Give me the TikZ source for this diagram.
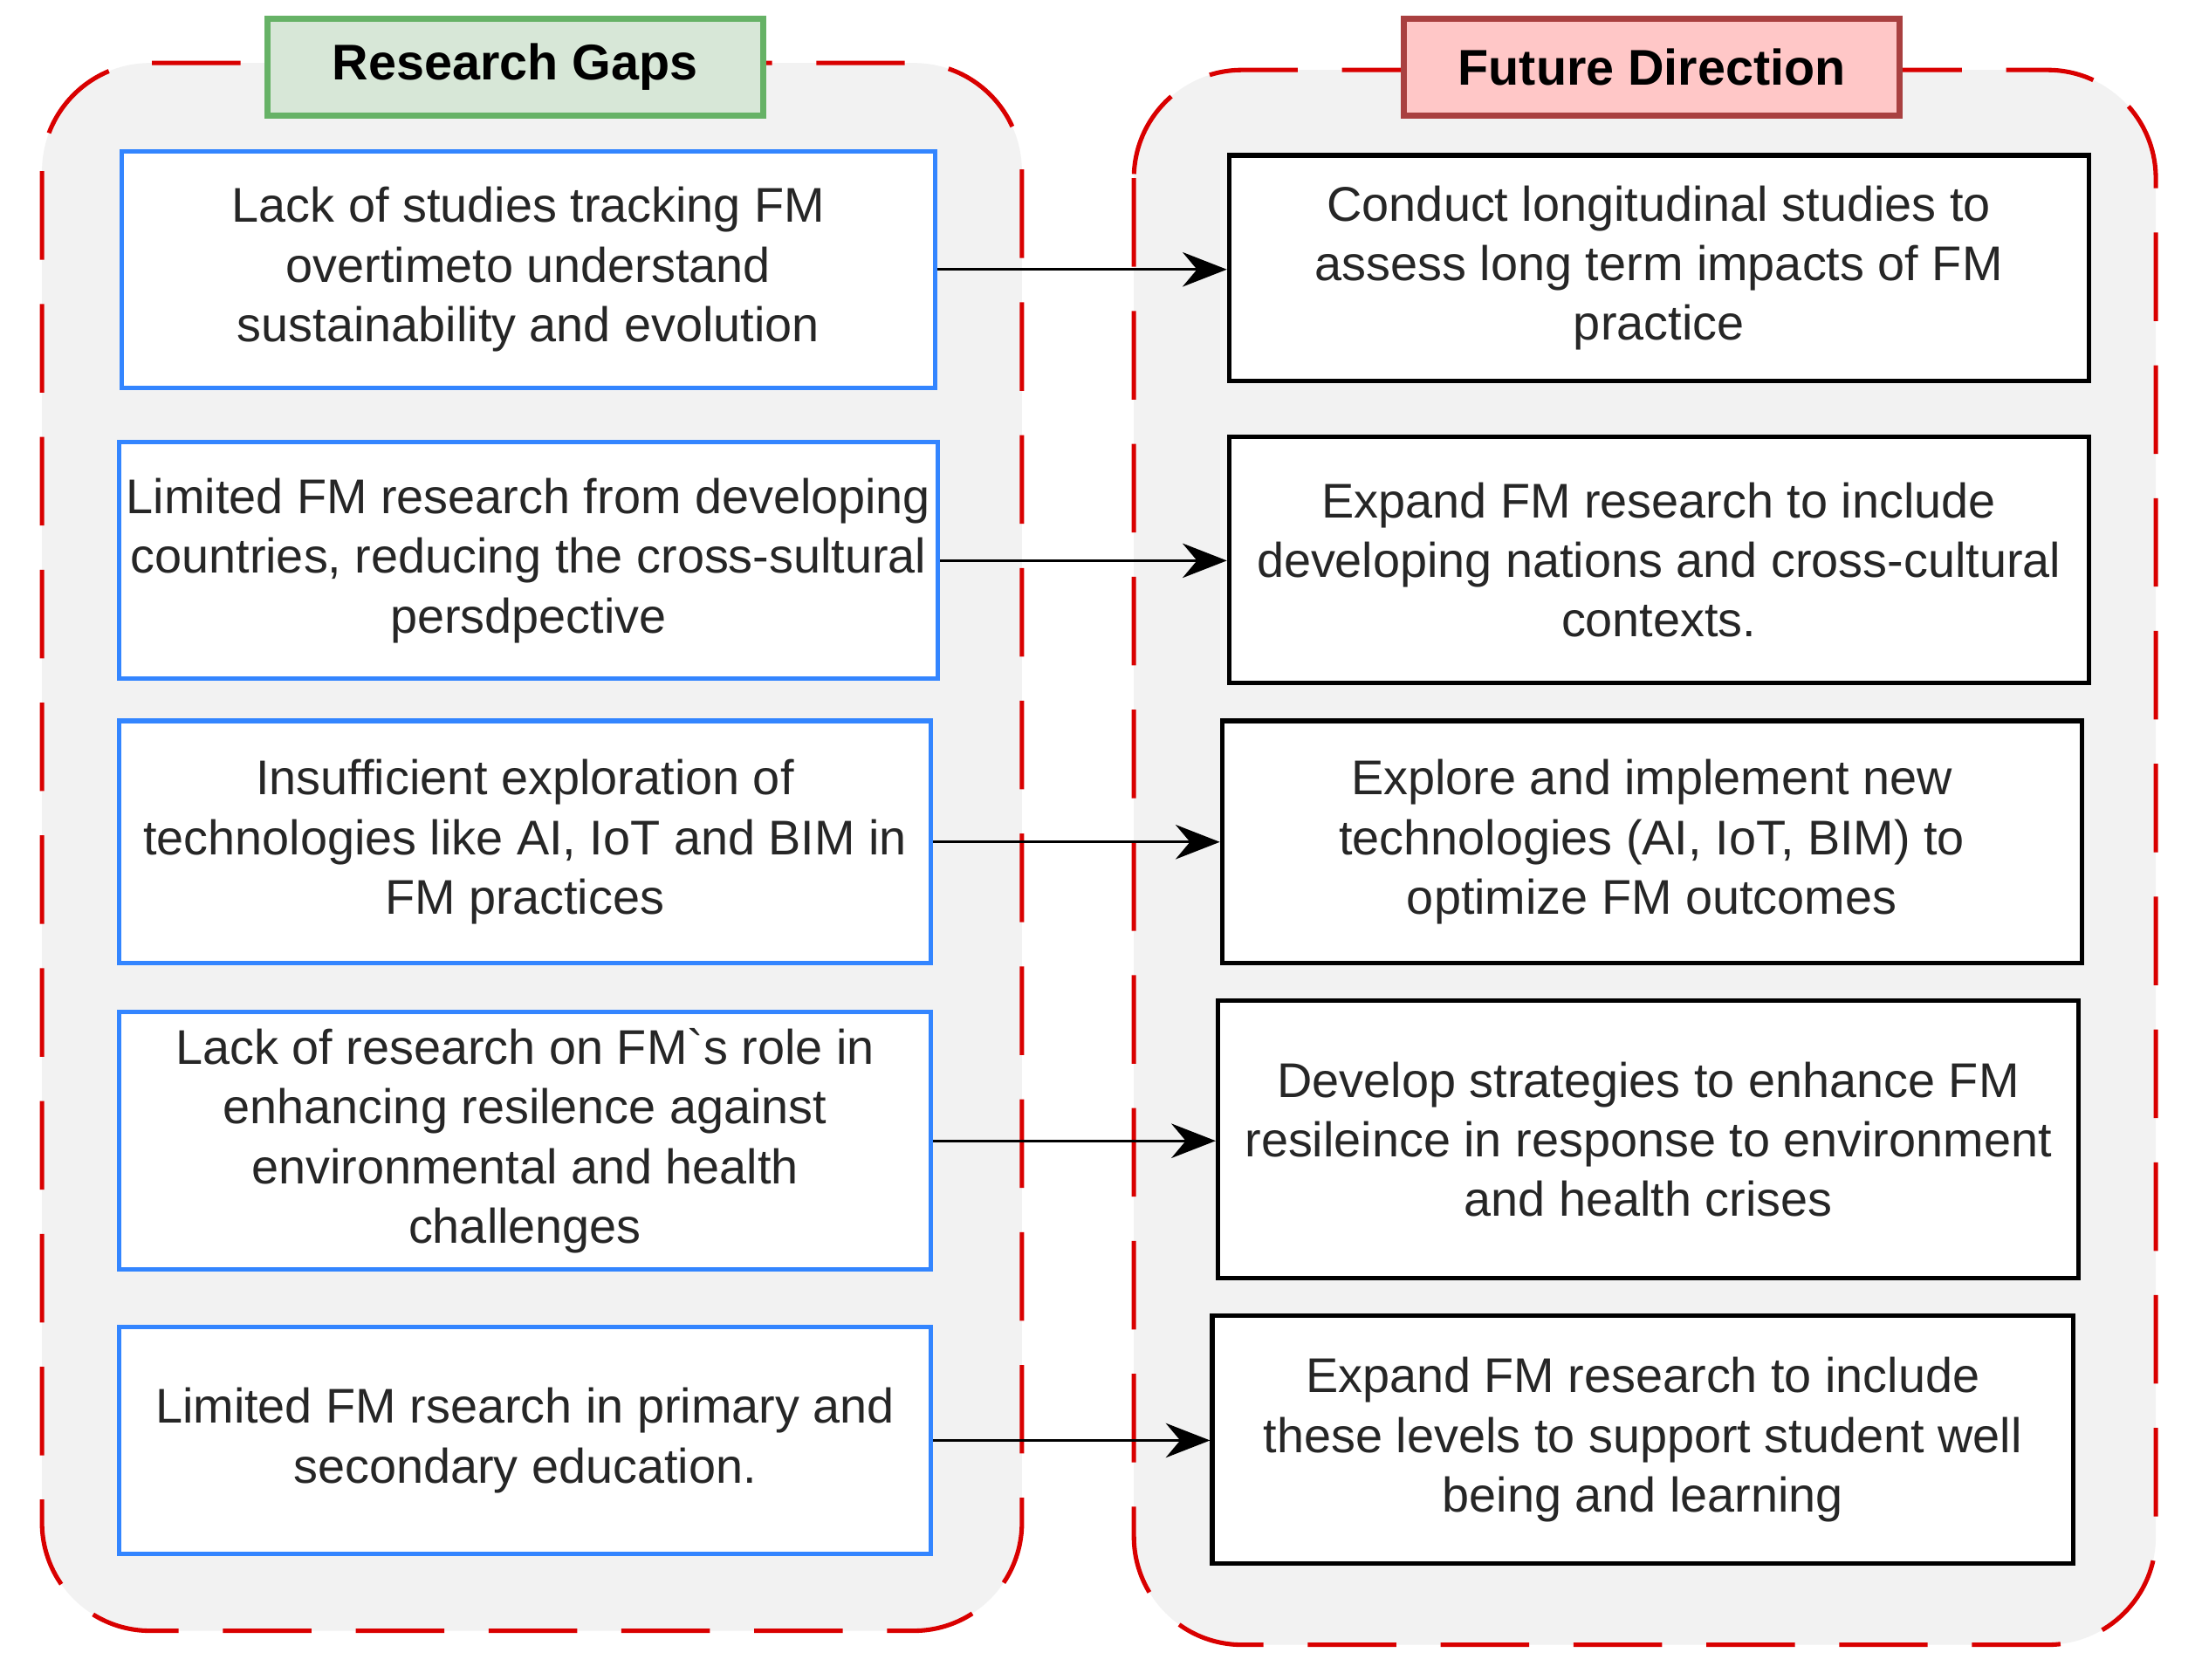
\documentclass[tikz,border=0pt]{standalone}
\usepackage{fontspec}
\setmainfont{Liberation Sans}
\usetikzlibrary{arrows.meta}
\begin{document}
\begin{tikzpicture}[x=0.1mm,y=-0.1mm,
  cont/.style={draw=red!85!black,dash pattern=on 18pt off 9pt,line width=0.9pt,fill=gray!10,rounded corners=22pt},
  gap/.style={draw=blue!60!cyan!80,line width=0.9pt,fill=white},
  dir/.style={draw=black,line width=0.9pt,fill=white},
  arr/.style={-{Stealth[length=9pt,width=7pt]},line width=0.6pt}]
\newcommand\bx[7]{\node[#7,minimum width={(#4-#2)*0.1mm},minimum height={(#5-#3)*0.1mm},align=center,inner sep=0pt,text=black!85,font=\fontsize{9.9}{12.1}\selectfont] (#1) at ({(#2+#4)/2},{(#3+#5)/2}) {#6};}
\useasboundingbox (0,0) rectangle (1568,1200);
\fill[white] (0,0) rectangle (1568,1200);
\draw[cont] (30,45) rectangle (730,1165);
\draw[cont] (810,50) rectangle (1540,1175);
\node[draw=green!50!black!60,fill=green!25!gray!25,line width=1.2pt,minimum width=354*0.1mm,minimum height=69*0.1mm,font=\bfseries\fontsize{10.2}{12}\selectfont,inner sep=0pt] (t1) at (368,48) {Research Gaps};
\node[draw=red!55!black!75,fill=red!22,line width=1.2pt,minimum width=354*0.1mm,minimum height=69*0.1mm,font=\bfseries\fontsize{10.2}{12}\selectfont,inner sep=0pt] (t2) at (1180,48) {Future Direction};
\bx{l1}{87}{108}{668}{277}{Lack of studies tracking FM\\overtimeto understand\\sustainability and evolution}{gap}
\bx{l2}{85}{316}{670}{485}{Limited FM research from developing\\countries, reducing the cross-sultural\\persdpective}{gap}
\bx{l3}{85}{515}{665}{688}{Insufficient exploration of\\technologies like AI, IoT and BIM in\\FM practices}{gap}
\bx{l4}{85}{723}{665}{907}{Lack of research on FM\textasciigrave s role in\\enhancing resilence against\\environmental and health\\challenges}{gap}
\bx{l5}{85}{948}{665}{1110}{Limited FM rsearch in primary and\\secondary education.}{gap}
\bx{r1}{878}{111}{1492}{272}{Conduct longitudinal studies to\\assess long term impacts of FM\\practice}{dir}
\bx{r2}{878}{312}{1492}{488}{Expand FM research to include\\developing nations and cross-cultural\\contexts.}{dir}
\bx{r3}{873}{515}{1487}{688}{Explore and implement new\\technologies (AI, IoT, BIM) to\\optimize FM outcomes}{dir}
\bx{r4}{870}{715}{1485}{913}{Develop strategies to enhance FM\\resileince in response to environment\\and health crises}{dir}
\bx{r5}{866}{940}{1481}{1117}{Expand FM research to include\\these levels to support student well\\being and learning}{dir}
\foreach \i in {1,...,5}{\draw[arr] (l\i.east) -- (l\i.east -| r\i.west);}
\end{tikzpicture}
\end{document}
